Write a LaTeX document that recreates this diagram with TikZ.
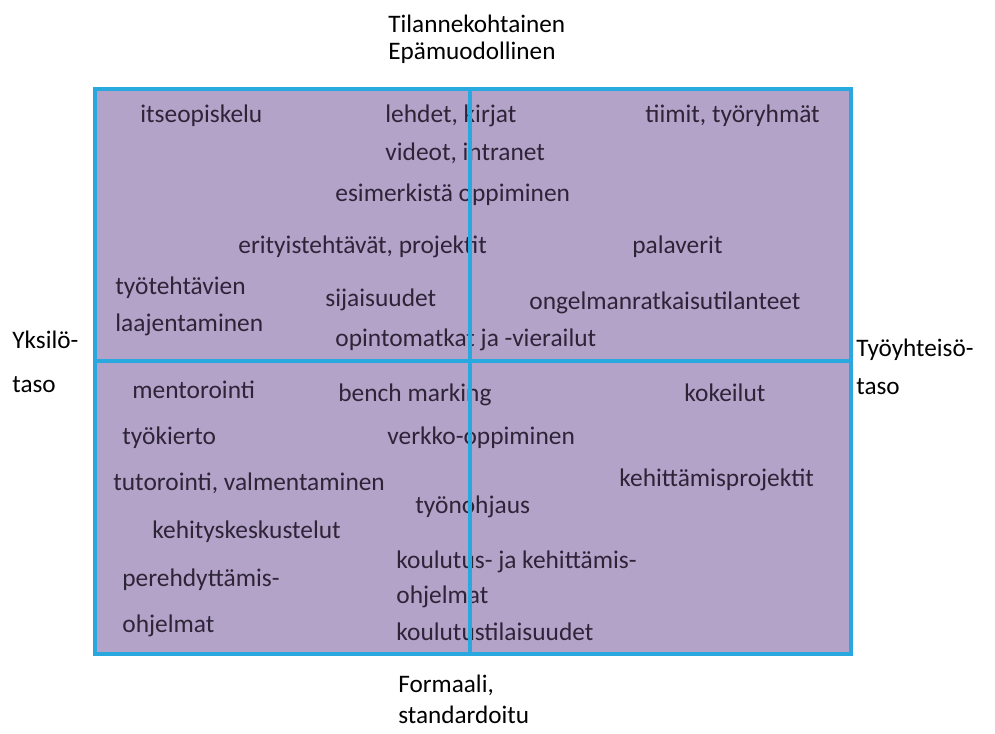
\documentclass[tikz,border=0pt]{standalone}
\usepackage{fontspec}
\setmainfont{Carlito}
\usepackage{tikz}
\usetikzlibrary{calc}
\definecolor{quadfillc}{HTML}{B3A3C9}
\definecolor{quadlinec}{HTML}{29A8E0}
\definecolor{quadtextc}{HTML}{2E2438}
\colorlet{quadfill}{quadfillc}
\colorlet{quadline}{quadlinec}
\colorlet{quadtext}{quadtextc}
\tikzstyle{quadbox} = [
    draw=quadline,
    fill=quadfill,
    line width=2pt
    ]
\tikzstyle{divider} = [
    draw=quadline,
    line width=2pt
    ]
\tikzstyle{item} = [
    anchor=west,
    inner sep=0pt,
    text=quadtext,
    font=\fontsize{12.7}{15}\selectfont
    ]
\tikzstyle{axislabel} = [
    anchor=west,
    inner sep=0pt,
    text=black,
    font=\fontsize{12.6}{15}\selectfont
    ]

\begin{document}
\begin{tikzpicture}[x=0.5pt, y=-0.5pt]
\useasboundingbox (0,0) rectangle (995,733);
\draw[quadbox] (95,89) coordinate (nw) rectangle (851,654) coordinate (se);
\coordinate (mid) at (470,361);

% axis labels
\node[axislabel] (top1) at (388,24) {Tilannekohtainen};
\node[axislabel] (top2) at (388,53) {Epämuodollinen};
\node[axislabel] (left1) at (12,340) {Yksilö-};
\node[axislabel] (left2) at (12,385) {taso};
\node[axislabel] (right1) at (856,350) {Työyhteisö-};
\node[axislabel] (right2) at (856,387) {taso};
\node[axislabel] (bot1) at (398,685) {Formaali,};
\node[axislabel] (bot2) at (398,715) {standardoitu};

% upper half
\node[item] (itse) at (140,116) {itseopiskelu};
\node[item] (lehdet) at (385,116) {lehdet, kirjat};
\node[item] (tiimit) at (645,116) {tiimit, työryhmät};
\node[item] (videot) at (385,153) {videot, intranet};
\node[item] (esim) at (335,195) {esimerkistä oppiminen};
\node[item] (erit) at (238,247) {erityistehtävät, projektit};
\node[item] (palav) at (632,247) {palaverit};
\node[item] (tyot1) at (115,288) {työtehtävien};
\node[item] (tyot2) at (115,325) {laajentaminen};
\node[item] (sijais) at (325,300) {sijaisuudet};
\node[item] (ongel) at (529,303) {ongelmanratkaisutilanteet};
\node[item] (opint) at (335,340) {opintomatkat ja -vierailut};

% lower half
\node[item] (mentor) at (132,390) {mentorointi};
\node[item] (bench) at (338,395) {bench marking};
\node[item] (kokeil) at (684,393) {kokeilut};
\node[item] (kierto) at (122,438) {työkierto};
\node[item] (verkko) at (387,438) {verkko-oppiminen};
\node[item] (tutor) at (113,483) {tutorointi, valmentaminen};
\node[item] (kehpro) at (619,480) {kehittämisprojektit};
\node[item] (ohjaus) at (415,507) {työnohjaus};
\node[item] (kehkes) at (152,532) {kehityskeskustelut};
\node[item] (koul1) at (396,562) {koulutus- ja kehittämis-};
\node[item] (koul2) at (396,597) {ohjelmat};
\node[item] (koul3) at (396,632) {koulutustilaisuudet};
\node[item] (pereh1) at (122,580) {perehdyttämis-};
\node[item] (pereh2) at (122,626) {ohjelmat};

% dividers on top of the text
\draw[divider] (mid |- nw) -- (mid |- se);
\draw[divider] (nw |- mid) -- (se |- mid);
\end{tikzpicture}
\end{document}
